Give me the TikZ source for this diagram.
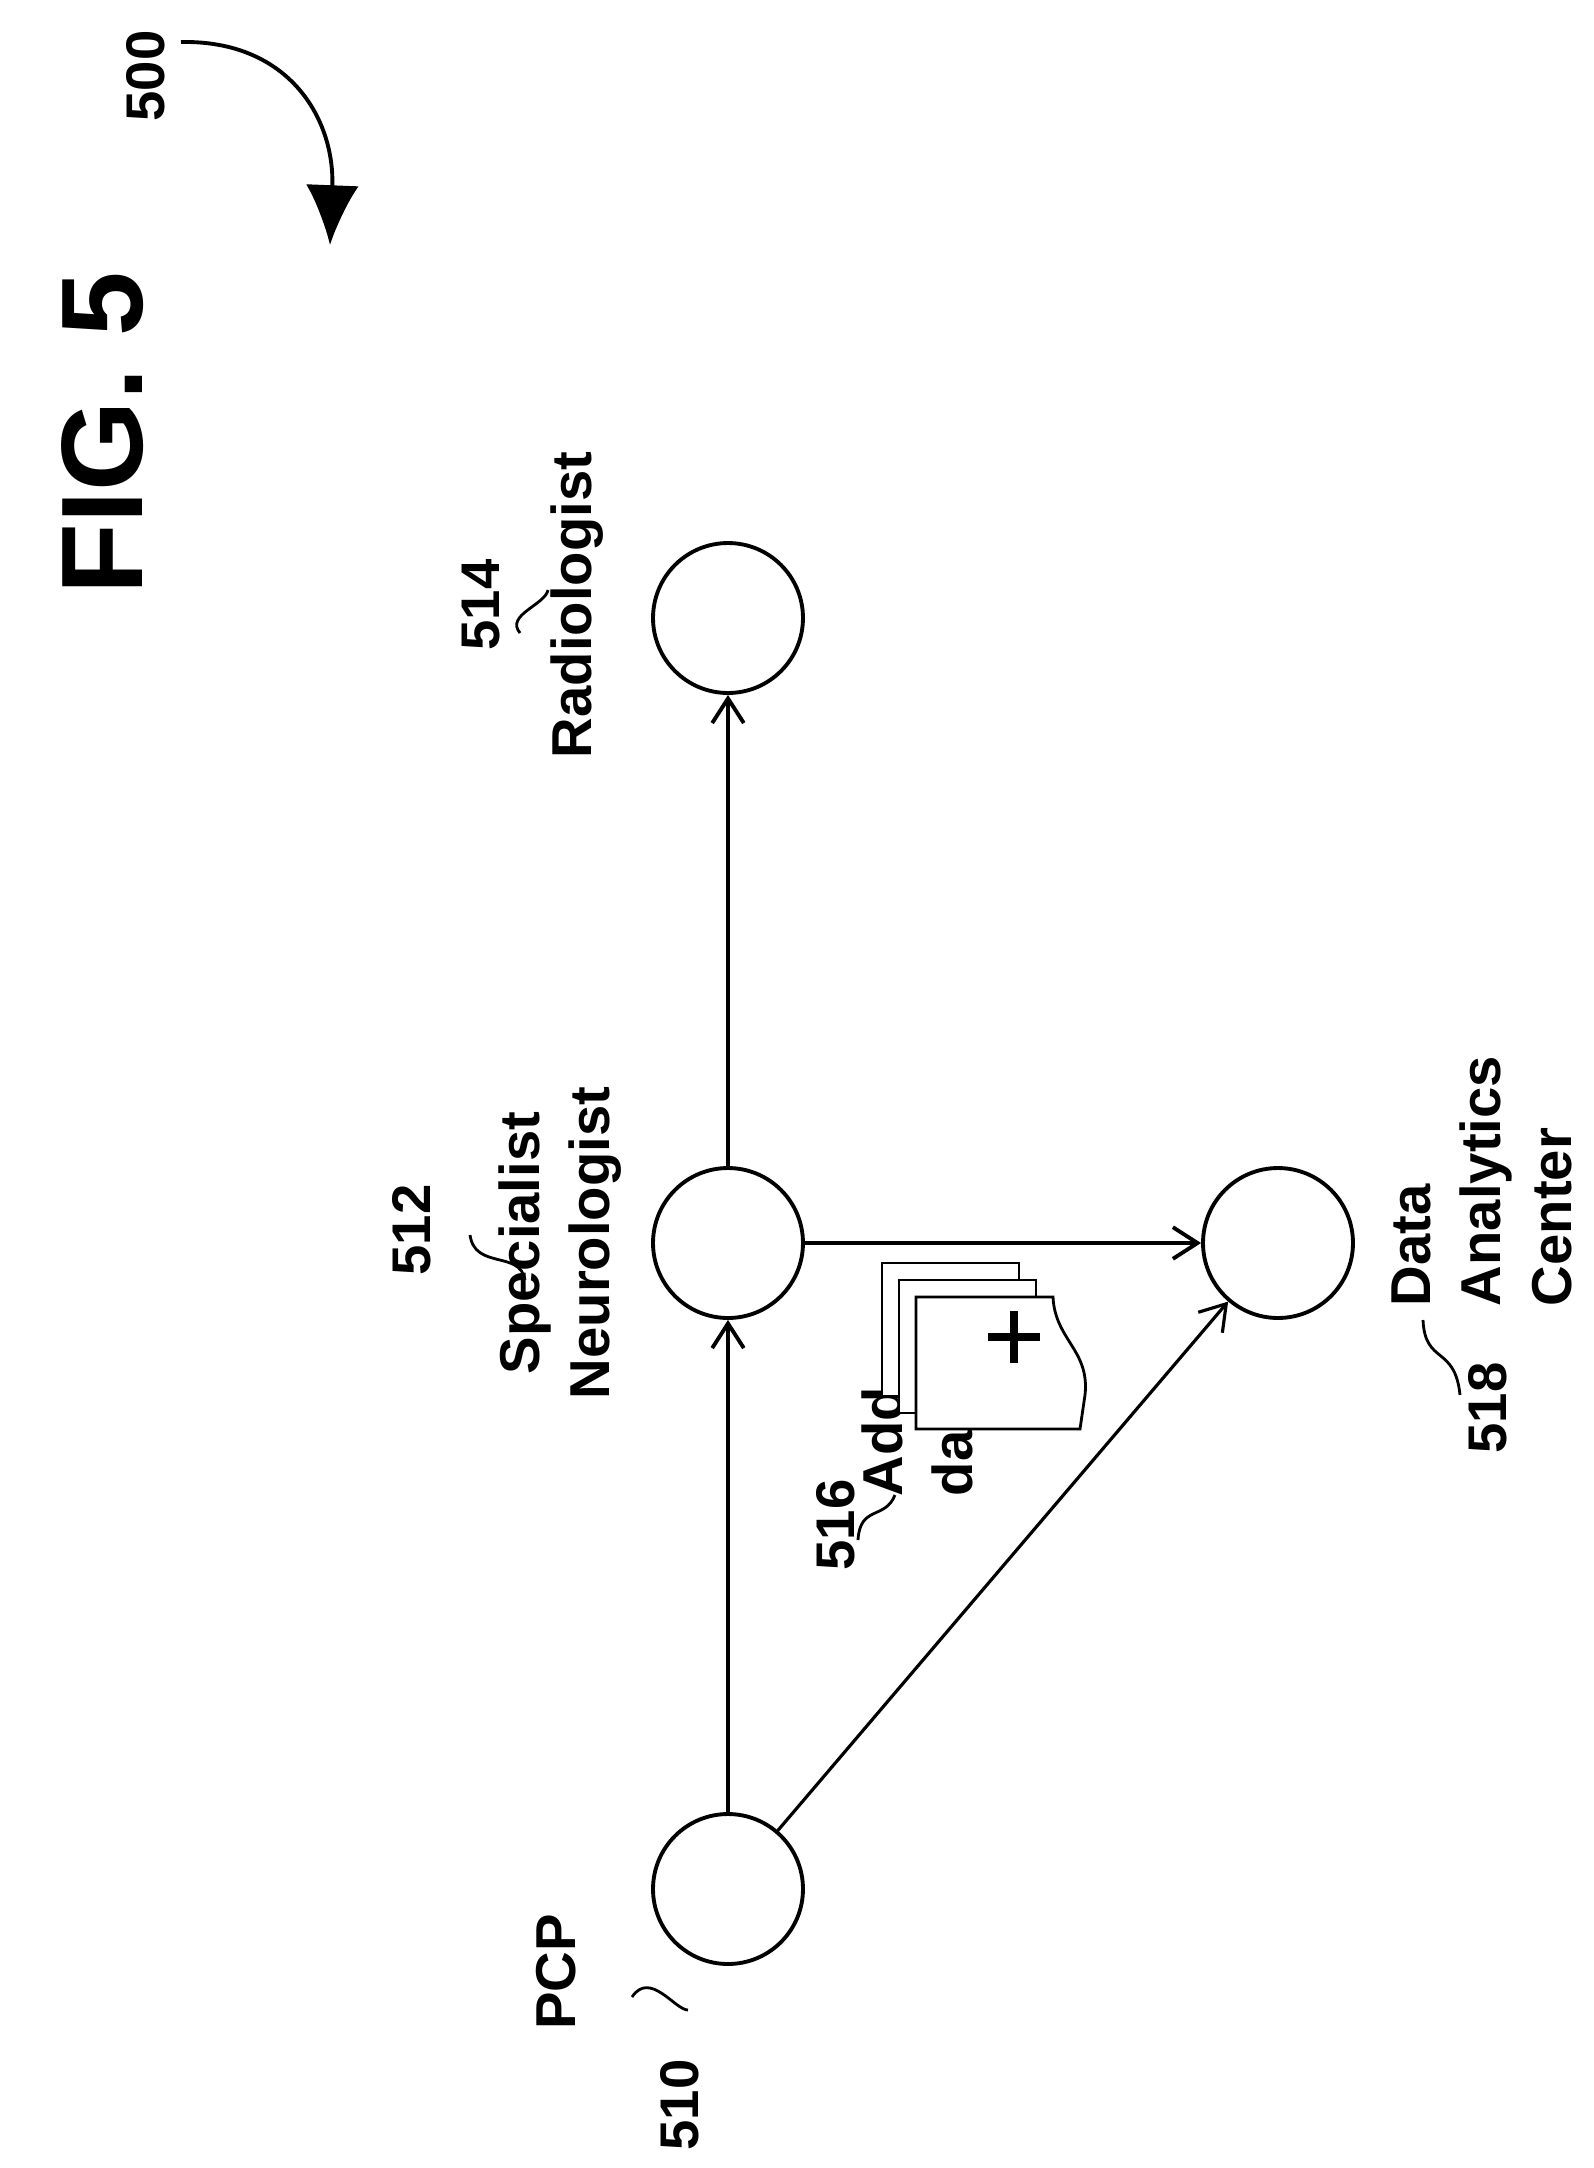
\documentclass[tikz,border=0pt]{standalone}
\usepackage{fontspec}
\setmainfont{Liberation Sans}
\usetikzlibrary{arrows.meta}
\begin{document}
\begin{tikzpicture}[x=0.02cm,y=-0.02cm,line width=2.2pt,>={Straight Barb[length=14pt,width=18pt]}]
	\tikzstyle{p-node}=[circle,draw=black,line width=2.2pt,minimum size=3cm,inner sep=0pt]
	\tikzstyle{lbl}=[rotate=90,font=\bfseries\fontsize{32}{40}\selectfont,align=center]
	\tikzstyle{num}=[rotate=90,font=\bfseries\fontsize{31}{36}\selectfont]
	\tikzstyle{leader}=[line width=1.6pt]
	\useasboundingbox (0,0) rectangle (1594,2168);
	% title
	\node[rotate=90,font=\bfseries\fontsize{66}{70}\selectfont] (fig) at (103,433) {FIG. 5};
	\node[num] (n500) at (146,76) {500};
	\coordinate (a500) at (330,245);
	\draw[-{Latex[length=34pt,width=30pt]}] (181,42) .. controls (290,40) and (335,120) .. (a500);
	
	% people
	\node[p-node] (pcp)  at (728,1889) {};
	\node[p-node] (spec) at (728,1243) {};
	\node[p-node] (rad)  at (728,618)  {};
	\node[p-node] (dac)  at (1278,1243) {};
	
	% labels
	\node[lbl] (rad-l)  at (577,605)  {Radiologist};
	\node[num] (n514)   at (481,605)  {514};
	\node[lbl] (spec-l) at (560,1243) {Specialist\\Neurologist};
	\node[num] (n512)   at (412,1230) {512};
	\node[lbl] (pcp-l)  at (556,1972) {PCP};
	\node[num] (n510)   at (680,2105) {510};
	\node[lbl,align=left,anchor=north west,inner sep=0pt] (dac-l) at (1390,1308) {Data\\Analytics\\Center};
	\node[num] (n518)   at (1488,1408) {518};
	\node[lbl,align=left,anchor=north west,inner sep=0pt] (add-l) at (860,1498) {Add\\data};
	\node[num] (n516)   at (836,1525) {516};
	
	% leaders
	\draw[leader] (520,633) .. controls (505,615) and (545,605) .. (548,590);
	\draw[leader] (470,1235) .. controls (475,1270) and (520,1250) .. (525,1280);
	\draw[leader] (632,1997) .. controls (650,1970) and (675,2010) .. (688,2010);
	\draw[leader] (1423,1320) .. controls (1425,1365) and (1455,1345) .. (1460,1395);
	\draw[leader] (858,1540) .. controls (860,1505) and (885,1520) .. (895,1495);
	
	% document icon
	\foreach \d in {34,17}
		\draw[line width=1.6pt,fill=white] (916-\d,1297-\d) -- (1053-\d,1297-\d) -- (1053-\d,1430-\d) -- (916-\d,1430-\d) -- cycle;
	\draw[line width=1.6pt,fill=white] (916,1297) -- (1053,1297) .. controls (1055,1340) and (1090,1350) .. (1085,1395) -- (1080,1429) -- (916,1429) -- cycle;
	\draw[line width=4.5pt] (988,1337) -- (1040,1337) (1014,1311) -- (1014,1363);
	
	% connections
	\draw[->] (pcp) -- (spec);
	\draw[->] (spec) -- (rad);
	\draw[->] (spec) -- (dac);
	\draw[->,line width=1.8pt] (pcp) -- (dac);
\end{tikzpicture}
\end{document}
